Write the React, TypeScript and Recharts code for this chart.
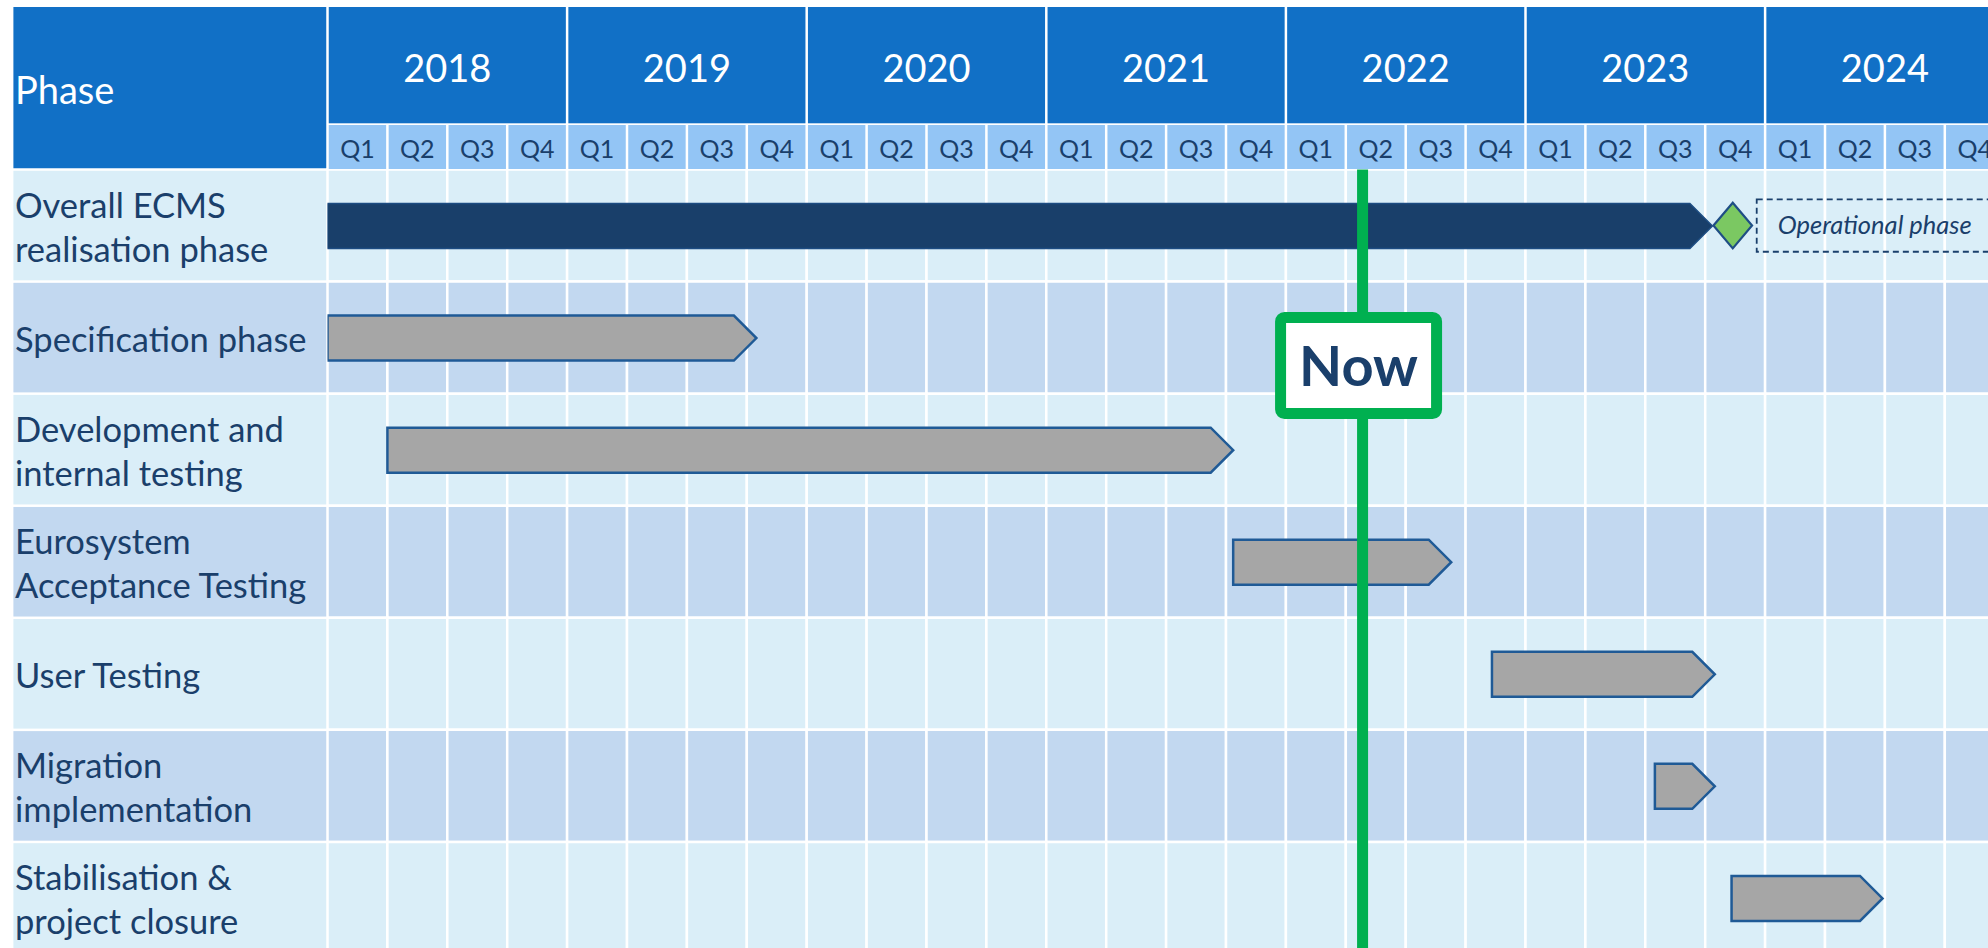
import React from "react";
import {
  ComposedChart,
  Bar,
  XAxis,
  YAxis,
  ReferenceArea,
  ReferenceDot,
  ReferenceLine,
} from "recharts";

// phases (category axis), "\n" marks the line break used in the label column
const phases = [
  "Overall ECMS\nrealisation phase",
  "Specification phase",
  "Development and\ninternal testing",
  "Eurosystem\nAcceptance Testing",
  "User Testing",
  "Migration\nimplementation",
  "Stabilisation &\nproject closure",
];

// start / end of each phase as fractional years
const phaseStart = [2018.0, 2018.0, 2018.25, 2021.78, 2022.86, 2023.54, 2023.86];
const phaseEnd = [2023.78, 2019.79, 2021.78, 2022.69, 2023.79, 2023.79, 2024.49];

const years = ["2018", "2019", "2020", "2021", "2022", "2023", "2024"];
const quarters = ["Q1", "Q2", "Q3", "Q4"];

const goLive = 2023.865;
const operationalPhase = [2023.965, 2025.3];
const nowDate = 2022.32;

const rows = phases.map((phase, i) => ({ phase, span: [phaseStart[i], phaseEnd[i]] }));

// layout
const W = 1988;
const H = 954;
const LABEL_W = 327.5;
const TOP = 7;
const HEAD_H = 162.5;
const PX_YEAR = 239.6;
const FIRST = Number(years[0]);
const DOMAIN: [number, number] = [FIRST, FIRST + (W - LABEL_W) / PX_YEAR];
const BAND = (H - TOP - HEAD_H) / phases.length;
const GAP = 1.25;

const quarterTicks = years.flatMap((_, yi) => quarters.map((_, qi) => FIRST + yi + qi / 4 + 1 / 8));
const quarterEdges = years.flatMap((_, yi) => quarters.map((_, qi) => FIRST + yi + qi / 4));

const HEAD_BLUE = "#1170C6";
const Q_BLUE = "#93C5F5";
const ROW_LIGHT = "#DAEEF8";
const ROW_DARK = "#C2D8F0";
const NAVY = "#1A3F6B";
const FONT = "Lato, 'Noto Sans', sans-serif";

function HeaderTick(props: any) {
  const { x, index } = props;
  const qw = PX_YEAR / 4;
  const yi = Math.floor(index / 4);
  const qi = index % 4;
  const left = x - qw / 2;
  return (
    <g>
      {qi === 0 && (
        <g>
          <rect x={left + GAP} y={TOP} width={PX_YEAR - 2 * GAP} height={116.3} fill={HEAD_BLUE} />
          <text x={left + PX_YEAR / 2} y={82} textAnchor="middle" fill="#fff" fontSize={38} fontFamily={FONT}>
            {years[yi]}
          </text>
        </g>
      )}
      <rect x={left + GAP} y={125} width={qw - 2 * GAP} height={44} fill={Q_BLUE} />
      <text x={x} y={158} textAnchor="middle" fill={NAVY} fontSize={25} fontFamily={FONT}>
        {quarters[qi]}
      </text>
    </g>
  );
}

function PhaseTick(props: any) {
  const { y, payload, index } = props;
  const lines = String(payload.value).split("\n");
  return (
    <g>
      <rect
        x={13.4}
        y={y - BAND / 2 + GAP}
        width={LABEL_W - GAP - 13.4}
        height={BAND - 2 * GAP}
        fill={index % 2 === 0 ? ROW_LIGHT : ROW_DARK}
      />
      {lines.map((l, j) => (
        <text
          key={j}
          x={15}
          y={lines.length === 1 ? y + 14 : y - 8 + 44 * j}
          fill={NAVY}
          fontSize={34.5}
          fontFamily={FONT}
        >
          {l}
        </text>
      ))}
    </g>
  );
}

function ArrowBar(props: any) {
  const { x, y, width, height, index } = props;
  if (width == null || width <= 0) return null;
  const tip = height / 2;
  const body = x + width - tip;
  const pts = `${x},${y} ${body},${y} ${x + width},${y + height / 2} ${body},${y + height} ${x},${y + height}`;
  const overall = index === 0;
  return (
    <polygon
      points={pts}
      fill={overall ? "#193F6A" : "#A6A6A6"}
      stroke={overall ? "#1D4C82" : "#1F5A96"}
      strokeWidth={overall ? 1.5 : 2.5}
    />
  );
}

function Diamond(props: any) {
  const { cx, cy } = props;
  const hw = 19.3;
  const hh = 22.8;
  return (
    <polygon
      points={`${cx - hw},${cy} ${cx},${cy - hh} ${cx + hw},${cy} ${cx},${cy + hh}`}
      fill="#7BC862"
      stroke="#1F4E85"
      strokeWidth={2.2}
    />
  );
}

function OperationalBox(props: any) {
  const { x, y, width, height } = props;
  const cy = y + height / 2;
  return (
    <g>
      <rect
        x={x}
        y={cy - 26.2}
        width={width}
        height={52.4}
        fill="none"
        stroke={NAVY}
        strokeWidth={1.8}
        strokeDasharray="6 4"
      />
      <text x={x + 21} y={cy + 8} fill={NAVY} fontSize={25.5} fontStyle="italic" fontFamily={FONT}>
        Operational phase
      </text>
    </g>
  );
}

function NowBox(props: any) {
  const vb = props.viewBox || {};
  const cx = vb.x - 4;
  const cy = vb.y + 196;
  return (
    <g>
      <rect x={cx - 78} y={cy - 48} width={156} height={96} rx={4} fill="#fff" stroke="#00B050" strokeWidth={11} />
      <text
        x={cx}
        y={cy + 20}
        textAnchor="middle"
        fill={NAVY}
        fontSize={56}
        fontWeight={700}
        fontFamily={FONT}
      >
        Now
      </text>
    </g>
  );
}

export default function App() {
  return (
    <div style={{ position: "absolute", left: 0, top: 0, width: 1988, height: 948, overflow: "hidden", background: "#fff" }}>
      <ComposedChart
        width={W}
        height={H}
        data={rows}
        layout="vertical"
        margin={{ top: TOP, right: 0, bottom: 0, left: 0 }}
      >
        <XAxis
          type="number"
          orientation="top"
          domain={DOMAIN}
          allowDataOverflow
          ticks={quarterTicks}
          interval={0}
          height={HEAD_H}
          axisLine={false}
          tickLine={false}
          tick={<HeaderTick />}
        />
        <YAxis
          type="category"
          dataKey="phase"
          width={LABEL_W}
          interval={0}
          axisLine={false}
          tickLine={false}
          tick={<PhaseTick />}
        />

        {phases.map((p, i) =>
          quarterEdges.map((q, k) => (
            <ReferenceArea
              key={`c-${i}-${k}`}
              x1={q}
              x2={q + 0.25}
              y1={p}
              y2={p}
              fill={i % 2 === 0 ? ROW_LIGHT : ROW_DARK}
              fillOpacity={1}
              stroke="#fff"
              strokeWidth={2.5}
              ifOverflow="visible"
            />
          ))
        )}

        <ReferenceArea
          x1={operationalPhase[0]}
          x2={operationalPhase[1]}
          y1={phases[0]}
          y2={phases[0]}
          ifOverflow="visible"
          shape={<OperationalBox />}
        />

        <Bar dataKey="span" barSize={45} shape={<ArrowBar />} isAnimationActive={false} />

        <ReferenceDot x={goLive} y={phases[0]} ifOverflow="visible" shape={<Diamond />} />

        <ReferenceLine x={nowDate} stroke="#00B050" strokeWidth={11} label={<NowBox />} />

        <g>
          <rect x={13.4} y={TOP} width={LABEL_W - GAP - 13.4} height={HEAD_H - GAP} fill={HEAD_BLUE} />
          <text x={15} y={104} fill="#fff" fontSize={38} fontFamily={FONT}>
            Phase
          </text>
        </g>
      </ComposedChart>
    </div>
  );
}
